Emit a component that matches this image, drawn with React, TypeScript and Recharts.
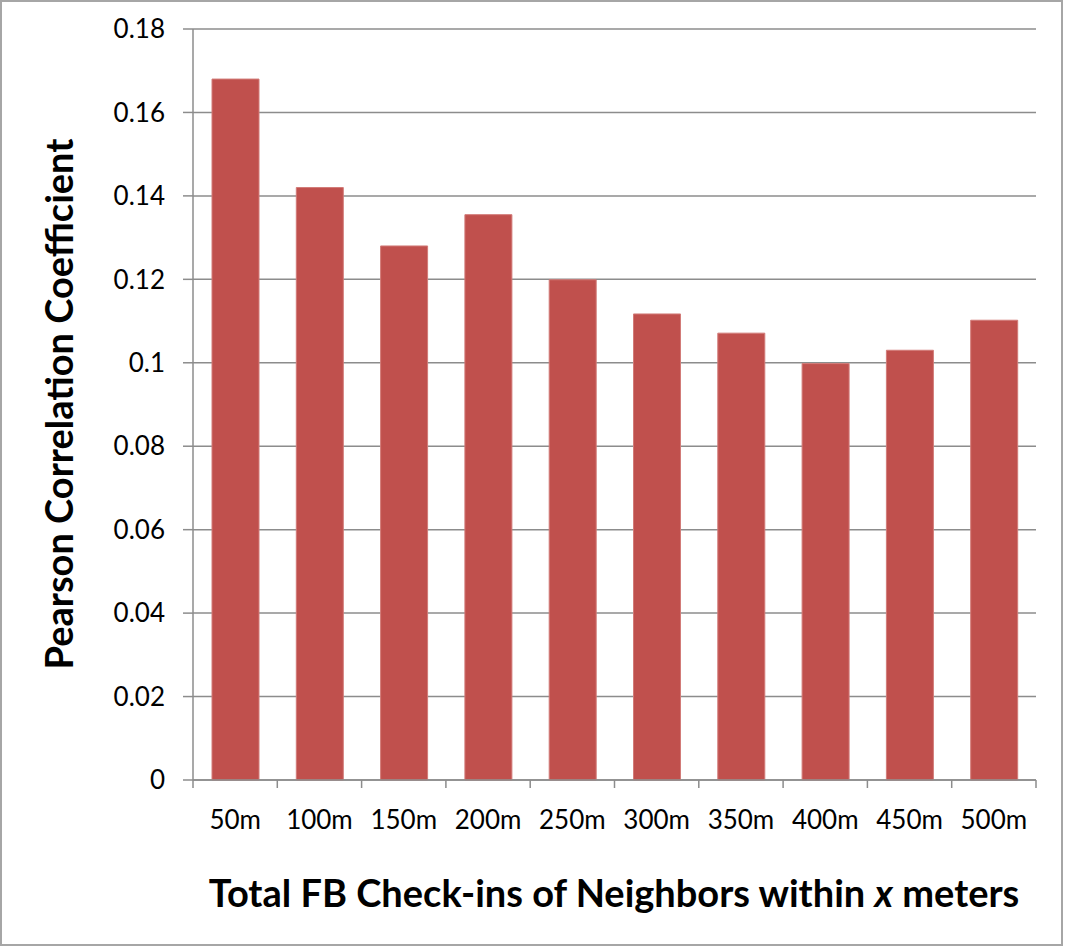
import React from 'react';
import { BarChart, Bar, XAxis, YAxis, CartesianGrid } from 'recharts';

const distances = ['50m', '100m', '150m', '200m', '250m', '300m', '350m', '400m', '450m', '500m'];
const pearson = [0.168, 0.142, 0.128, 0.1355, 0.1199, 0.1117, 0.1071, 0.0998, 0.103, 0.1102];
const yTicks = [0, 0.02, 0.04, 0.06, 0.08, 0.1, 0.12, 0.14, 0.16, 0.18];

const data = distances.map((name, i) => ({ name, value: pearson[i] }));

const FONT = 'Lato, "Open Sans", sans-serif';
const GRID = '#8c8c8c';

// category labels, with tick marks on the boundaries between categories (Excel style)
const XTick = (props: any) => {
  const { x, y, payload, index } = props;
  const half = payload?.offset ?? 42;
  const last = index === distances.length - 1;
  return (
    <g>
      <line x1={x - half} y1={y - 8} x2={x - half} y2={y} stroke={GRID} strokeWidth={1.5} />
      {last && <line x1={x + half} y1={y - 8} x2={x + half} y2={y} stroke={GRID} strokeWidth={1.5} />}
      <text x={x} y={y + 41} textAnchor="middle" fontSize={26} fontFamily={FONT} fill="#000">
        {payload.value}
      </text>
    </g>
  );
};

const App: React.FC = () => {
  return (
    <div style={{ position: 'absolute', left: 0, top: 0, width: 1065, height: 947, background: '#fff' }}>
      <div
        style={{
          position: 'absolute', left: 0, top: 0, width: 1063, height: 946,
          boxSizing: 'border-box', border: '2px solid #a6a6a6',
        }}
      />
      <BarChart width={1065} height={947} data={data} margin={{ top: 29, right: 29, left: 0, bottom: 0 }}>
        <CartesianGrid vertical={false} stroke={GRID} strokeWidth={1.5} />
        <XAxis
          dataKey="name"
          height={167}
          axisLine={{ stroke: GRID, strokeWidth: 1.5 }}
          tickLine={false}
          tick={<XTick />}
          interval={0}
          label={{
            content: () => (
              <text x={614} y={907} textAnchor="middle" fontSize={38} fontWeight="bold" fontFamily={FONT} fill="#000">
                Total FB Check-ins of Neighbors within <tspan fontStyle="italic">x</tspan> meters
              </text>
            ),
          }}
        />
        <YAxis
          width={193}
          domain={[0, 0.18]}
          ticks={yTicks}
          interval={0}
          axisLine={{ stroke: GRID, strokeWidth: 1.5 }}
          tickLine={{ stroke: GRID, strokeWidth: 1.5 }}
          tickSize={10}
          tickMargin={18}
          tick={{ fontSize: 26, fontFamily: FONT, fill: '#000' }}
          label={{
            content: () => (
              <text x={73} y={404} transform="rotate(-90 73 404)" textAnchor="middle" fontSize={38} fontWeight="bold" fontFamily={FONT} fill="#000">
                Pearson Correlation Coefficient
              </text>
            ),
          }}
        />
        <Bar dataKey="value" fill="#c0504d" stroke="#d27b78" strokeWidth={1} barSize={47} isAnimationActive={false} />
      </BarChart>
    </div>
  );
};

export default App;
